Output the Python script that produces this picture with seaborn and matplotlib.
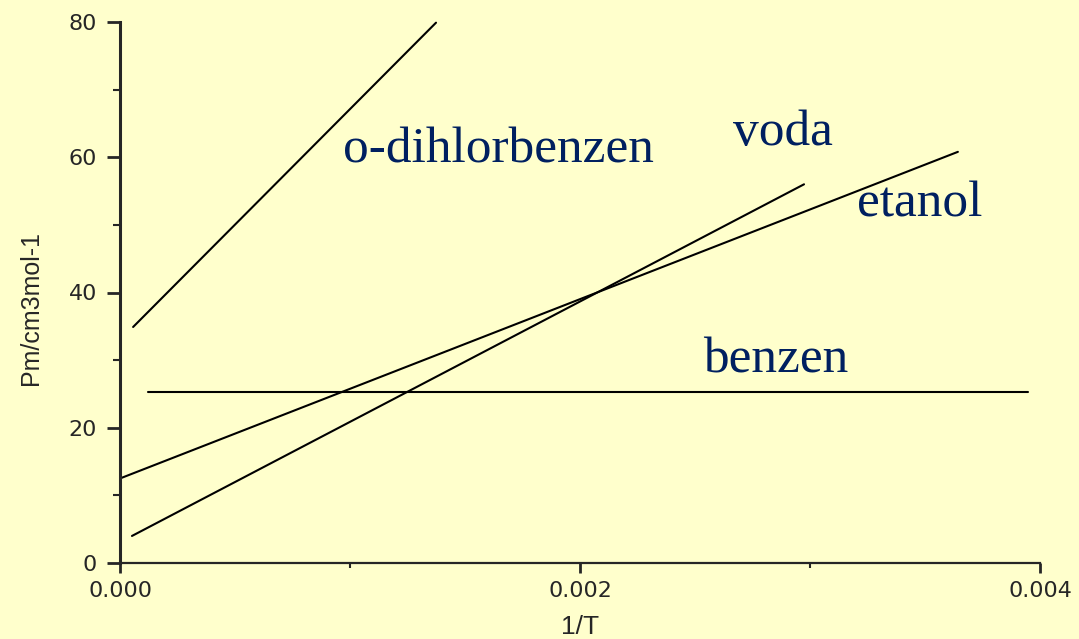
import numpy as np
import pandas as pd
import seaborn as sns
import matplotlib.pyplot as plt
from matplotlib.ticker import MultipleLocator

# line end points (x = 1/T, y = Pm)
series = ["o-dihlorbenzen", "voda", "etanol", "benzen"]
x_start = [0.000057, 0.000052, 0.0, 0.000122]
x_end = [0.001374, 0.002974, 0.003643, 0.003948]
y_start = [34.9, 4.0, 12.5, 25.3]
y_end = [79.9, 56.0, 60.8, 25.3]

# label positions (data coords, left/baseline)
label_x = [0.00097, 0.002665, 0.003204, 0.002535]
label_y = [59.2, 61.8, 51.2, 28.1]

rows = []
for name, x0, x1, y0, y1 in zip(series, x_start, x_end, y_start, y_end):
    rows.append({"serie": name, "x": x0, "y": y0})
    rows.append({"serie": name, "x": x1, "y": y1})
df = pd.DataFrame(rows)

bg = "#FFFFCC"
navy = "#002060"

sns.set_style("white")
plt.rcParams["font.family"] = ["DejaVu Sans"]

fig = plt.figure(figsize=(10.79, 6.39), dpi=100, facecolor=bg)
ax = fig.add_axes([120 / 1079, 1 - 563 / 639, 920 / 1079, 541 / 639])
ax.set_facecolor(bg)

sns.lineplot(data=df, x="x", y="y", hue="serie", palette=["black"] * 4,
             legend=False, linewidth=1.5, ax=ax, clip_on=False)

for name, lx, ly in zip(series, label_x, label_y):
    ax.text(lx, ly, name, color=navy, fontsize=37, family="Liberation Serif",
            ha="left", va="baseline")

ax.set_xlim(0, 0.004)
ax.set_ylim(0, 80)
ax.xaxis.set_major_locator(MultipleLocator(0.002))
ax.xaxis.set_minor_locator(MultipleLocator(0.001))
ax.yaxis.set_major_locator(MultipleLocator(20))
ax.yaxis.set_minor_locator(MultipleLocator(10))
ax.xaxis.set_major_formatter(plt.FuncFormatter(lambda v, p: f"{v:.3f}"))

for s in ["top", "right"]:
    ax.spines[s].set_visible(False)
ax.spines["left"].set_linewidth(2.2)
ax.spines["bottom"].set_linewidth(1.6)

ax.tick_params(axis="y", which="major", direction="out", length=9.5, width=2,
               labelsize=16, pad=7, left=True)
ax.tick_params(axis="y", which="minor", direction="out", length=5, width=1.5, left=True)
ax.tick_params(axis="x", which="major", direction="out", length=7, width=2,
               labelsize=16, pad=6, bottom=True)
ax.tick_params(axis="x", which="minor", direction="out", length=3.6, width=1.5, bottom=True)

ax.set_xlabel("1/T", family="Liberation Sans", fontsize=19, labelpad=10)
ax.set_ylabel("Pm/cm3mol-1", family="Liberation Sans", fontsize=18)
ax.yaxis.set_label_coords(-0.084, 0.471)

fig.savefig("out.png", dpi=100, facecolor=bg)
